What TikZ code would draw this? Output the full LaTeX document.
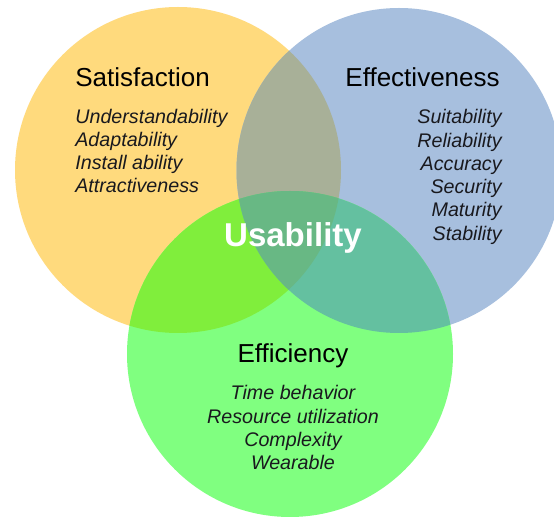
\documentclass[tikz,border=0pt]{standalone}
\usepackage{fontspec}
\setmainfont{Liberation Sans}
\usepackage{tikz}
\usetikzlibrary{positioning}
\definecolor{satyellow}{RGB}{255,218,125}
\definecolor{effblue}{RGB}{167,191,222}
\definecolor{efgreen}{RGB}{128,255,128}
\definecolor{sbmix}{RGB}{168,176,152}
\definecolor{sgmix}{RGB}{128,238,60}
\definecolor{bgmix}{RGB}{100,192,160}
\definecolor{allmix}{RGB}{104,184,132}
\definecolor{itemdark}{RGB}{25,25,30}
\tikzset{
  title/.style={inner sep=0pt, font=\fontsize{14.8}{17}\selectfont, text=black},
  item/.style={inner sep=0pt, font=\fontsize{11.2}{13}\selectfont\itshape, text=itemdark},
  hub/.style={inner sep=0pt, font=\fontsize{18.8}{22}\selectfont\bfseries, text=white}
}

\begin{document}
\begin{tikzpicture}
  \useasboundingbox (0,0) rectangle (11.08,-10.34);
  \fill[white] (0,0) rectangle (11.08,-10.34);

  % The three circles
  \def\satcirc{(3.56,-3.40) circle (3.26)}
  \def\effcirc{(7.98,-3.41) circle (3.25)}
  \def\eficirc{(5.80,-7.08) circle (3.26)}
  \fill[satyellow] \satcirc;
  \fill[effblue] \effcirc;
  \fill[efgreen] \eficirc;

  % Overlaps
  \begin{scope}
    \clip \satcirc;
    \fill[sbmix] \effcirc;
    \fill[sgmix] \eficirc;
  \end{scope}
  \begin{scope}
    \clip \effcirc;
    \fill[bgmix] \eficirc;
    \clip \eficirc;
    \fill[allmix] \satcirc;
  \end{scope}

  % Satisfaction
  \node[title, anchor=base west] (sat) at (1.50,-1.74) {Satisfaction};
  \foreach \txt [count=\i] in {Understandability, Adaptability, Install ability, Attractiveness}
    \node[item, anchor=base west] (sat-\i) at (1.50,{-2.48-0.46*(\i-1)}) {\txt};

  % Effectiveness
  \node[title, anchor=base east] (eff) at (10.00,-1.74) {Effectiveness};
  \foreach \txt [count=\i] in {Suitability, Reliability, Accuracy, Security, Maturity, Stability}
    \node[item, anchor=base east] (eff-\i) at (10.04,{-2.48-0.465*(\i-1)}) {\txt};

  % Efficiency
  \node[title, anchor=base] (efi) at (5.86,-7.26) {Efficiency};
  \foreach \txt [count=\i] in {Time behavior, Resource utilization, Complexity, Wearable}
    \node[item, anchor=base] (efi-\i) at (5.86,{-8.00-0.46*(\i-1)}) {\txt};

  % Centre label
  \node[hub, anchor=base] (use) at (5.86,-4.94) {Usability};
\end{tikzpicture}
\end{document}
